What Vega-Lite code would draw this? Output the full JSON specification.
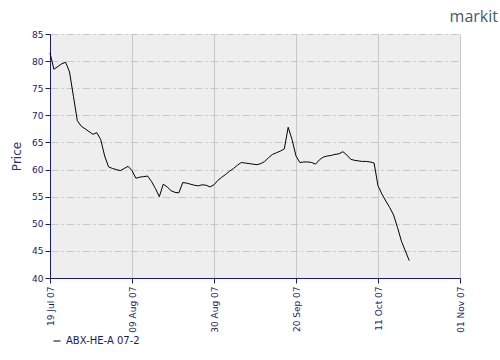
{
  "$schema": "https://vega.github.io/schema/vega-lite/v6.json",
  "width": 410,
  "height": 244,
  "autosize": {"type": "none"},
  "padding": {"left": 50, "top": 34, "right": 40, "bottom": 82},
  "background": "white",
  "title": {"text": "markit", "anchor": "end", "orient": "top", "dx": 33, "offset": 5, "fontSize": 16, "font": "Open Sans", "fontWeight": "normal", "color": "#3f5c6b"},
  "config": {
    "view": {"stroke": null, "fill": "#eeeeee"},
    "axis": {"labelFont": "DejaVu Sans", "labelFontSize": 9, "labelColor": "#1a1a5e", "domainColor": "#1a1a6e", "tickColor": "#1a1a6e", "gridColor": "#c8c8c8", "gridOpacity": 1, "tickSize": 5}
  },
  "data": {"values": [
    {"date": "2007-07-19", "price": 81.5},
    {"date": "2007-07-20", "price": 78.5},
    {"date": "2007-07-21", "price": 79.0},
    {"date": "2007-07-22", "price": 79.5},
    {"date": "2007-07-23", "price": 79.8},
    {"date": "2007-07-24", "price": 78.0},
    {"date": "2007-07-25", "price": 73.5},
    {"date": "2007-07-26", "price": 69.0},
    {"date": "2007-07-27", "price": 68.0},
    {"date": "2007-07-28", "price": 67.5},
    {"date": "2007-07-29", "price": 67.0},
    {"date": "2007-07-30", "price": 66.5},
    {"date": "2007-07-31", "price": 66.8},
    {"date": "2007-08-01", "price": 65.5},
    {"date": "2007-08-02", "price": 62.5},
    {"date": "2007-08-03", "price": 60.5},
    {"date": "2007-08-04", "price": 60.2},
    {"date": "2007-08-05", "price": 60.0},
    {"date": "2007-08-06", "price": 59.8},
    {"date": "2007-08-07", "price": 60.2},
    {"date": "2007-08-08", "price": 60.6},
    {"date": "2007-08-09", "price": 59.8},
    {"date": "2007-08-10", "price": 58.4},
    {"date": "2007-08-11", "price": 58.6},
    {"date": "2007-08-12", "price": 58.7},
    {"date": "2007-08-13", "price": 58.8},
    {"date": "2007-08-14", "price": 57.8},
    {"date": "2007-08-15", "price": 56.5},
    {"date": "2007-08-16", "price": 55.0},
    {"date": "2007-08-17", "price": 57.3},
    {"date": "2007-08-18", "price": 56.8},
    {"date": "2007-08-19", "price": 56.1},
    {"date": "2007-08-20", "price": 55.8},
    {"date": "2007-08-21", "price": 55.7},
    {"date": "2007-08-22", "price": 57.6},
    {"date": "2007-08-23", "price": 57.5},
    {"date": "2007-08-24", "price": 57.3},
    {"date": "2007-08-25", "price": 57.1},
    {"date": "2007-08-26", "price": 57.0},
    {"date": "2007-08-27", "price": 57.2},
    {"date": "2007-08-28", "price": 57.1},
    {"date": "2007-08-29", "price": 56.8},
    {"date": "2007-08-30", "price": 57.2},
    {"date": "2007-08-31", "price": 58.0},
    {"date": "2007-09-01", "price": 58.6},
    {"date": "2007-09-02", "price": 59.1},
    {"date": "2007-09-03", "price": 59.7},
    {"date": "2007-09-04", "price": 60.2},
    {"date": "2007-09-05", "price": 60.8},
    {"date": "2007-09-06", "price": 61.3},
    {"date": "2007-09-07", "price": 61.2},
    {"date": "2007-09-08", "price": 61.1},
    {"date": "2007-09-09", "price": 61.0},
    {"date": "2007-09-10", "price": 60.9},
    {"date": "2007-09-11", "price": 61.1},
    {"date": "2007-09-12", "price": 61.5},
    {"date": "2007-09-13", "price": 62.2},
    {"date": "2007-09-14", "price": 62.8},
    {"date": "2007-09-15", "price": 63.1},
    {"date": "2007-09-16", "price": 63.4},
    {"date": "2007-09-17", "price": 63.8},
    {"date": "2007-09-18", "price": 67.8},
    {"date": "2007-09-19", "price": 65.5},
    {"date": "2007-09-20", "price": 62.5},
    {"date": "2007-09-21", "price": 61.3},
    {"date": "2007-09-22", "price": 61.4},
    {"date": "2007-09-23", "price": 61.4},
    {"date": "2007-09-24", "price": 61.3},
    {"date": "2007-09-25", "price": 61.0},
    {"date": "2007-09-26", "price": 61.8},
    {"date": "2007-09-27", "price": 62.3},
    {"date": "2007-09-28", "price": 62.5},
    {"date": "2007-09-29", "price": 62.6},
    {"date": "2007-09-30", "price": 62.8},
    {"date": "2007-10-01", "price": 62.9},
    {"date": "2007-10-02", "price": 63.3},
    {"date": "2007-10-03", "price": 62.7},
    {"date": "2007-10-04", "price": 61.9},
    {"date": "2007-10-05", "price": 61.7},
    {"date": "2007-10-06", "price": 61.6},
    {"date": "2007-10-07", "price": 61.5},
    {"date": "2007-10-08", "price": 61.5},
    {"date": "2007-10-09", "price": 61.4},
    {"date": "2007-10-10", "price": 61.2},
    {"date": "2007-10-11", "price": 57.0},
    {"date": "2007-10-12", "price": 55.5},
    {"date": "2007-10-13", "price": 54.2},
    {"date": "2007-10-14", "price": 53.0},
    {"date": "2007-10-15", "price": 51.6},
    {"date": "2007-10-16", "price": 49.3},
    {"date": "2007-10-17", "price": 46.8},
    {"date": "2007-10-18", "price": 45.0},
    {"date": "2007-10-19", "price": 43.2}
  ]},
  "mark": {"type": "line", "strokeWidth": 1, "interpolate": "linear"},
  "encoding": {
    "x": {
      "field": "date", "type": "temporal",
      "scale": {"type": "utc", "domain": [{"year": 2007, "month": 7, "date": 19, "utc": true}, {"year": 2007, "month": 11, "date": 1, "utc": true}]},
      "axis": {
        "title": null, "format": "%d %b %y", "labelAngle": 270, "labelPadding": 3,
        "values": [
          {"year": 2007, "month": 7, "date": 19, "utc": true},
          {"year": 2007, "month": 8, "date": 9, "utc": true},
          {"year": 2007, "month": 8, "date": 30, "utc": true},
          {"year": 2007, "month": 9, "date": 20, "utc": true},
          {"year": 2007, "month": 10, "date": 11, "utc": true},
          {"year": 2007, "month": 11, "date": 1, "utc": true}
        ],
        "grid": true, "gridDash": [], "labelFlush": false, "labelOverlap": false
      }
    },
    "y": {
      "field": "price", "type": "quantitative",
      "scale": {"domain": [40, 85], "nice": false, "zero": false},
      "axis": {"title": "Price", "values": [40, 45, 50, 55, 60, 65, 70, 75, 80, 85], "gridDash": [8, 3, 2, 3], "titleFont": "DejaVu Sans", "titleFontSize": 12, "titleFontWeight": "normal", "titleColor": "#2a3070", "titlePadding": 8, "labelPadding": 2}
    },
    "color": {
      "datum": "ABX-HE-A 07-2",
      "type": "nominal",
      "scale": {"range": ["#000000"]},
      "legend": {"title": null, "orient": "none", "legendX": 2, "legendY": 302, "symbolType": "stroke", "symbolSize": 50, "symbolStrokeWidth": 1, "labelFont": "DejaVu Sans", "labelFontSize": 10, "labelColor": "#1a1a5e"}
    }
  }
}
